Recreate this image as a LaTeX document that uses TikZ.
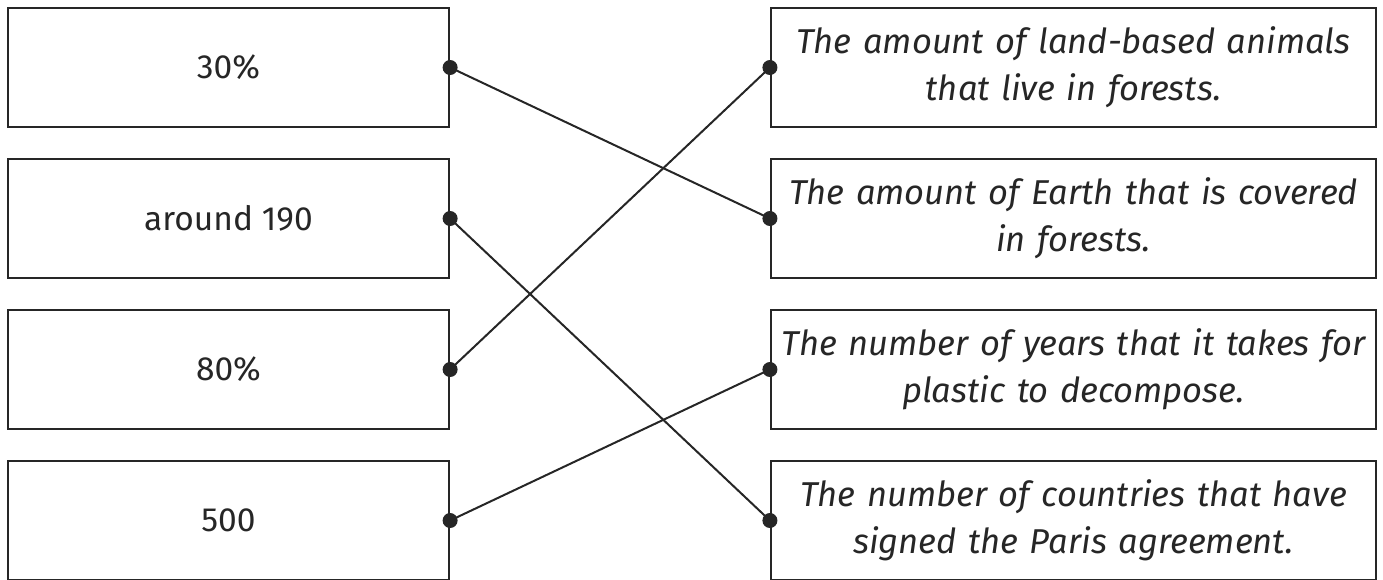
\documentclass[tikz,border=0pt]{standalone}
\usepackage{fontspec}
\setmainfont{Fira Sans}
\definecolor{mylinecolor}{HTML}{262626}
\newcommand{\leftfont}{\fontsize{33.5pt}{47pt}\selectfont}
\newcommand{\rightfont}{\fontsize{34.5pt}{47pt}\selectfont\itshape}
\tikzset{
  leftbox/.style={draw=mylinecolor, line width=2.2pt, fill=white, rectangle, minimum width=441pt, minimum height=119pt, inner sep=0pt, font=\leftfont},
  rightbox/.style={draw=mylinecolor, line width=2.2pt, fill=white, rectangle, minimum width=605pt, minimum height=119pt, inner sep=0pt, text width=600pt, align=center, font=\rightfont},
  matchline/.style={draw=mylinecolor, line width=2pt},
}

\begin{document}
\begin{tikzpicture}[x=1pt, y=1pt, text=mylinecolor]%
\useasboundingbox (0, 0) rectangle (1383, -579);%
% left column
\node[leftbox] (l1) at (228.5, -67.5) {30\%};%
\node[leftbox] (l2) at (228.5, -218.5) {around 190};%
\node[leftbox] (l3) at (228.5, -369.5) {80\%};%
\node[leftbox] (l4) at (228.5, -520.5) {500};%
% right column
\node[rightbox] (r1) at (1073.5, -67.5) {The amount of land-based animals\\ that live in forests.};%
\node[rightbox] (r2) at (1073.5, -218.5) {The amount of Earth that is covered\\ in forests.};%
\node[rightbox] (r3) at (1073.5, -369.5) {The number of years that it takes for\\ plastic to decompose.};%
\node[rightbox] (r4) at (1073.5, -520.5) {The number of countries that have\\ signed the Paris agreement.};%
% connectors
\draw[matchline] (l1.east) -- (r2.west);%
\draw[matchline] (l2.east) -- (r4.west);%
\draw[matchline] (l3.east) -- (r1.west);%
\draw[matchline] (l4.east) -- (r3.west);%
\foreach \n in {l1, l2, l3, l4} {\fill[mylinecolor] (\n.east) circle (7.5pt);}%
\foreach \n in {r1, r2, r3, r4} {\fill[mylinecolor] (\n.west) circle (7.5pt);}%
\end{tikzpicture}
\end{document}
